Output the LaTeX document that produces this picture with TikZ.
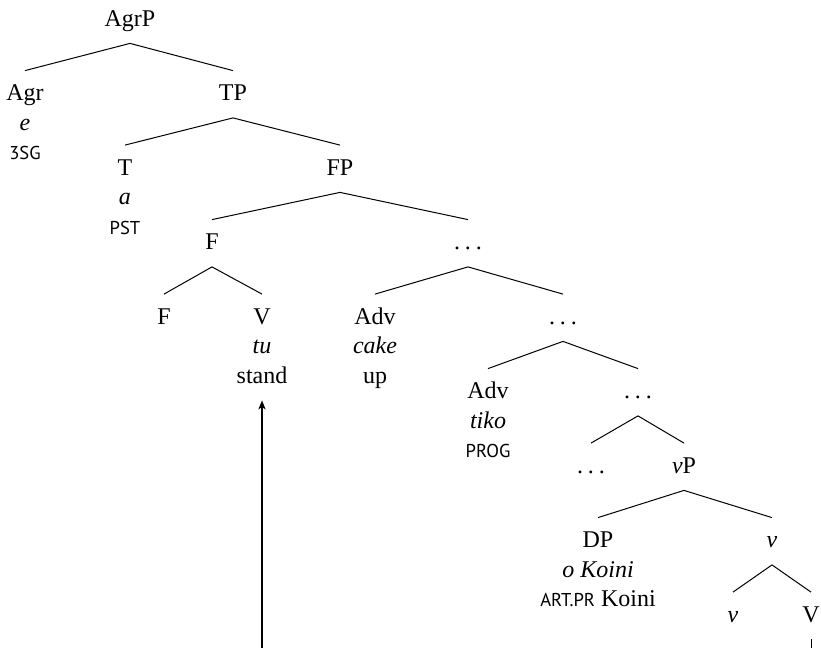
\documentclass[tikz,border=0pt]{standalone}
\usepackage{fontspec}
\setmainfont{Liberation Serif}
\newfontfamily\glossfont{PT Sans}
\usetikzlibrary{arrows.meta}
\newcommand{\smc}[1]{{\glossfont\fontsize{9.3}{10}\selectfont #1}}
\newcommand{\dd}{.\hspace{2.4pt}.\hspace{2.4pt}.}
\begin{document}
\begin{tikzpicture}[x=0.5pt,y=-0.5pt,
  cat/.style={inner sep=0pt, anchor=base, text height=14.75pt, text depth=8.5pt, font=\fontsize{12}{14}\selectfont},
  gl/.style={cat},
  edge/.style={line width=0.5pt},
  mov/.style={line width=0.8pt, -{Stealth[length=4.5pt,width=3.6pt,inset=1.2pt]}}]
\useasboundingbox (0,0) rectangle (821,648);
% row baselines: 26, 100.5, 175, 249.5, 324, 398.5, 473, 547.5, 622
\node[cat] (agrp) at (130,26) {AgrP};
\node[cat] (agr) at (25,100.5) {Agr};
\node[gl] (agre) at (25,130) {\textit{e}};
\node[gl] (agrg) at (25,159.5) {\smc{3SG}};
\node[cat] (tp) at (233,100.5) {TP};
\node[cat] (t) at (125,175) {T};
\node[gl] (ta) at (125,204.5) {\textit{a}};
\node[gl] (tg) at (125,234) {\smc{PST}};
\node[cat] (fp) at (340,175) {FP};
\node[cat] (f1) at (212,249.5) {F};
\node[cat] (d1) at (468,249.5) {\dd};
\node[cat] (f2) at (164,324) {F};
\node[cat] (v) at (262,324) {V};
\node[gl] (vtu) at (262,353.5) {\textit{tu}};
\node[gl] (stand) at (262,383) {stand};
\node[cat] (adv1) at (375,324) {Adv};
\node[gl] (cake) at (375,353.5) {\textit{cake}};
\node[gl] (up) at (375,383) {up};
\node[cat] (d2) at (563,324) {\dd};
\node[cat] (adv2) at (488,398.5) {Adv};
\node[gl] (tiko) at (488,428) {\textit{tiko}};
\node[gl] (prog) at (488,457.5) {\smc{PROG}};
\node[cat] (d3) at (638,398.5) {\dd};
\node[cat] (d4) at (591,473) {\dd};
\node[cat] (vp) at (684,473) {\textit{v}P};
\node[cat] (dp) at (598,547.5) {DP};
\node[gl] (koini) at (598,577) {\textit{o Koini}};
\node[gl] (koinig) at (598,606.5) {\smc{ART.PR} Koini};
\node[cat] (v1) at (772,547.5) {\textit{v}};
\node[cat] (v2) at (733,622) {\textit{v}};
\node[cat] (V2) at (811,622) {V};
\coordinate (vbot) at (811,648);
\coordinate (abot) at (262,648);
\foreach \p/\c in {agrp/agr,agrp/tp,tp/t,tp/fp,fp/f1,fp/d1,f1/f2,f1/v,d1/adv1,d1/d2,d2/adv2,d2/d3,d3/d4,d3/vp,vp/dp,vp/v1,v1/v2,v1/V2}
  \draw[edge] (\p.south) -- (\c.north);
\draw[edge] (V2.south) -- (vbot);
\draw[mov] (abot) -- (stand.south);
\end{tikzpicture}
\end{document}
